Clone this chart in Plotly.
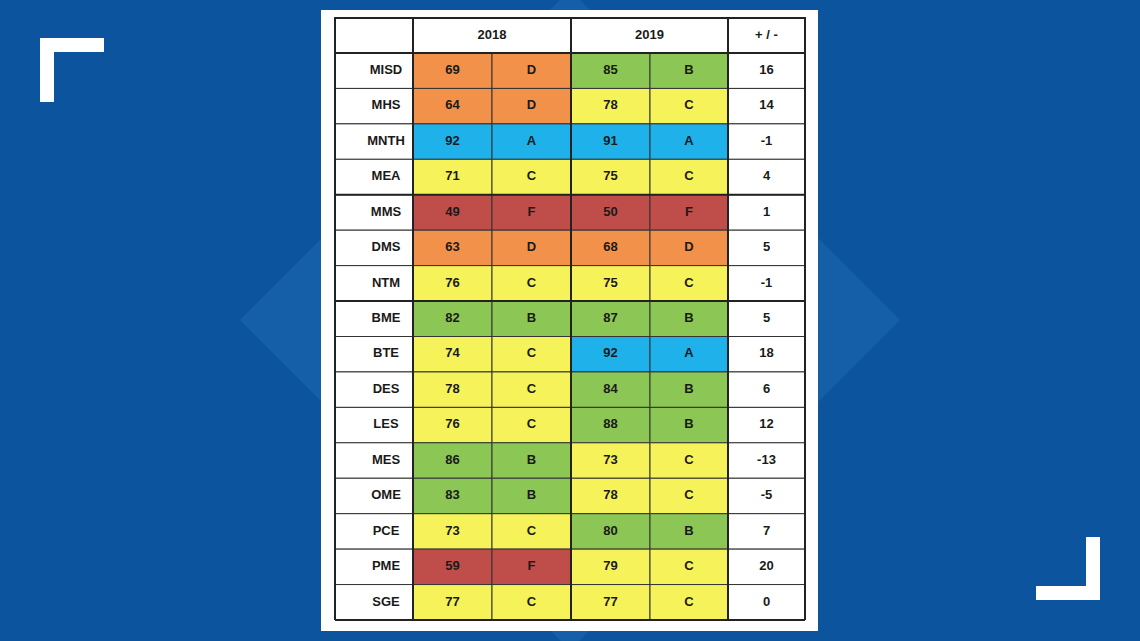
import plotly.graph_objects as go

schools = ["MISD","MHS","MNTH","MEA","MMS","DMS","NTM","BME","BTE","DES","LES","MES","OME","PCE","PME","SGE"]
score18 = [69,64,92,71,49,63,76,82,74,78,76,86,83,73,59,77]
grade18 = ["D","D","A","C","F","D","C","B","C","C","C","B","B","C","F","C"]
score19 = [85,78,91,75,50,68,75,87,92,84,88,73,78,80,79,77]
grade19 = ["B","C","A","C","F","D","C","B","A","B","B","C","C","B","C","C"]
diff = [16,14,-1,4,1,5,-1,5,18,6,12,-13,-5,7,20,0]
headers = ["2018","2019","+ / -"]

gcol = {"A":"#1eb1ea","B":"#8cc655","C":"#f6f35a","D":"#f2914a","F":"#bf4e4b"}
xe = [335,413,492,571,650,728,805]
top, y0, y1 = 18, 53, 620
h = (y1-y0)/len(schools)

shapes = []
for cx, col, w in [(570,"#145fa8",330),(570,"#1a6ab3",200)]:
    shapes.append(dict(type="path", path=f"M {cx-w},320 L {cx},{320-w} L {cx+w},320 L {cx},{320+w} Z",
                       fillcolor=col, line=dict(width=0), layer="below"))
shapes.append(dict(type="rect", x0=321, x1=818, y0=10, y1=631, fillcolor="white", line=dict(width=0), layer="below"))
texts_x, texts_y, texts = [], [], []
for i, s in enumerate(schools):
    ya, yb = y0+i*h, y0+(i+1)*h
    cells = [(None, s), (gcol[grade18[i]], str(score18[i])), (gcol[grade18[i]], grade18[i]),
             (gcol[grade19[i]], str(score19[i])), (gcol[grade19[i]], grade19[i]), (None, str(diff[i]))]
    for j, (c, t) in enumerate(cells):
        shapes.append(dict(type="rect", x0=xe[j], x1=xe[j+1], y0=ya, y1=yb, layer="below",
                           fillcolor=c or "white", line=dict(color="#333", width=1)))
        texts_x.append((xe[j]+xe[j+1])/2 + (12 if j == 0 else 0)); texts_y.append((ya+yb)/2); texts.append(t)
hspans = [(0,1,""),(1,3,headers[0]),(3,5,headers[1]),(5,6,headers[2])]
for a, b, t in hspans:
    shapes.append(dict(type="rect", x0=xe[a], x1=xe[b], y0=top, y1=y0, fillcolor="white", layer="below",
                       line=dict(color="#222", width=2)))
    if t:
        texts_x.append((xe[a]+xe[b])/2); texts_y.append((top+y0)/2); texts.append(t)
for r in [0,4,7,16]:
    shapes.append(dict(type="line", x0=xe[0], x1=xe[-1], y0=y0+r*h, y1=y0+r*h, layer="below", line=dict(color="#222", width=2)))
for j in [0,1,3,5,6]:
    shapes.append(dict(type="line", x0=xe[j], x1=xe[j], y0=top, y1=y1, layer="below", line=dict(color="#222", width=2)))
shapes.append(dict(type="path", path="M 40,38 L 104,38 L 104,52 L 54,52 L 54,102 L 40,102 Z", fillcolor="white", line=dict(width=0)))
shapes.append(dict(type="path", path="M 1100,600 L 1036,600 L 1036,586 L 1086,586 L 1086,537 L 1100,537 Z", fillcolor="white", line=dict(width=0)))

fig = go.Figure(go.Scatter(x=texts_x, y=texts_y, text=texts, mode="text", hoverinfo="skip", cliponaxis=False,
                           textfont=dict(family="Liberation Sans, Arial", size=13, color="#1a1a1a", weight="bold")))
fig.update_layout(width=1140, height=641, margin=dict(l=0,r=0,t=0,b=0), paper_bgcolor="#0c559e",
                  plot_bgcolor="#0c559e", shapes=shapes, showlegend=False,
                  xaxis=dict(range=[0,1140], visible=False, fixedrange=True),
                  yaxis=dict(range=[641,0], visible=False, fixedrange=True))
fig.write_html("out.html", config={"displayModeBar": False},
               post_script="document.body.style.margin='0';document.body.style.overflow='hidden';")
